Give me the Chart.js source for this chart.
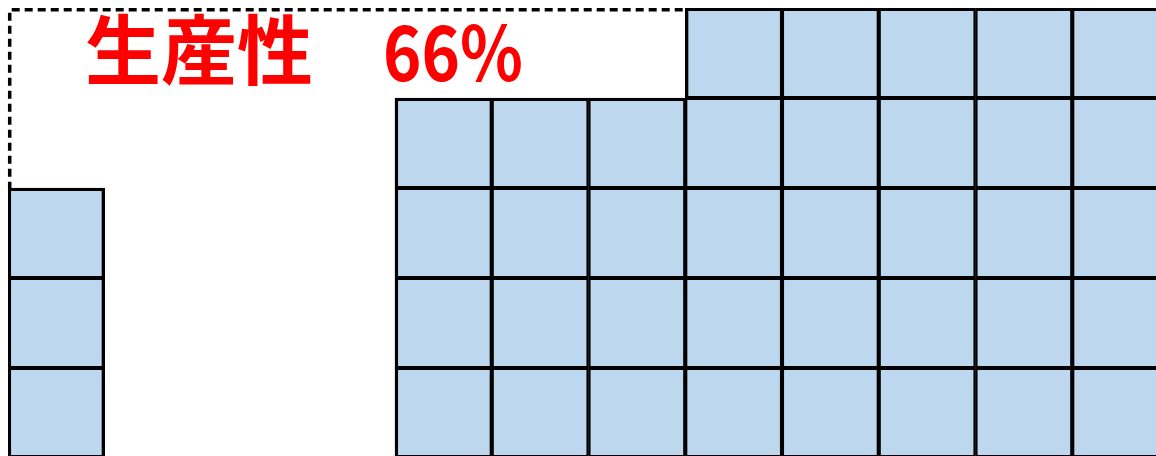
<!DOCTYPE html>
<html>
<head>
<meta charset="utf-8">
<script src="https://cdn.jsdelivr.net/npm/chart.js@4/dist/chart.umd.min.js"></script>
<style>
  html, body { margin: 0; padding: 0; background: #fff; overflow: hidden; width: 1156px; height: 456px; }
  #wrap { position: absolute; left: 0; top: 0; width: 1180px; height: 470px; }
</style>
</head>
<body>
<div id="wrap"><canvas id="c"></canvas></div>
<script>
// Data
const categories = ['1','2','3','4','5','6','7','8','9','10','11','12'];
const cellCounts = [3, 0, 0, 0, 4, 4, 4, 5, 5, 5, 5, 5];
const maxLevel = 5;
const dashX = [-0.5, -0.5, 6.5];
const dashY = [3, 5, 5];
const labelMain = '生産性';
const labelValue = '66%';

const cellFill = '#BDD7EE';
const INNER = 2.4, OUTER = 3.4;
const datasets = [];
for (let level = 0; level < maxLevel; level++) {
  datasets.push({
    label: 'row' + level,
    data: cellCounts.map(n => (n > level ? 1 : null)),
    backgroundColor: cellFill,
    borderColor: '#000000',
    borderWidth: (c) => {
      const i = c.dataIndex;
      const last = cellCounts.length - 1;
      return {
        top: cellCounts[i] === level + 1 ? OUTER : INNER,
        bottom: level === 0 ? OUTER : INNER,
        left: (i === 0 || cellCounts[i - 1] <= level) ? OUTER : INNER,
        right: (i === last || cellCounts[i + 1] <= level) ? OUTER : INNER
      };
    },
    borderSkipped: false,
    barPercentage: 1,
    categoryPercentage: 1
  });
}

const overlayPlugin = {
  id: 'overlayPlugin',
  afterDatasetsDraw(chart) {
    const ctx = chart.ctx;
    const xs = chart.scales.x;
    const ys = chart.scales.y;
    ctx.save();
    // dashed outline
    ctx.strokeStyle = '#000000';
    ctx.lineWidth = 3.5;
    ctx.lineCap = 'butt';
    ctx.setLineDash([8, 5]);
    ctx.beginPath();
    dashX.forEach((x, i) => {
      const px = xs.getPixelForValue(x) + 1.7;
      const py = ys.getPixelForValue(dashY[i]) + 1.7;
      if (i === 0) ctx.moveTo(px, py); else ctx.lineTo(px, py);
    });
    ctx.stroke();
    ctx.setLineDash([]);
    // label
    ctx.fillStyle = '#FF0000';
    ctx.textAlign = 'left';
    ctx.textBaseline = 'alphabetic';
    const top = ys.getPixelForValue(maxLevel);
    ctx.font = 'bold 76px "Noto Sans CJK JP"';
    ctx.fillText(labelMain, xs.getPixelForValue(0.327) - 3, top + 71);
    ctx.font = 'bold 76px "Noto Sans CJK JP"';
    const vx = xs.getPixelForValue(3.397) - 2;
    const w = ctx.measureText(labelValue).width;
    ctx.translate(vx, top + 73);
    ctx.scale(140 / w, 1);
    ctx.fillText(labelValue, 0, 0);
    ctx.restore();
  }
};

new Chart(document.getElementById('c'), {
  type: 'bar',
  data: { labels: categories, datasets: datasets },
  options: {
    responsive: true,
    maintainAspectRatio: false,
    animation: false,
    layout: { padding: { left: 8, top: 8, right: 11, bottom: 12 } },
    plugins: { legend: { display: false }, tooltip: { enabled: false } },
    scales: {
      x: { display: false, stacked: true, grid: { display: false } },
      y: { display: false, stacked: true, min: 0, max: maxLevel }
    }
  },
  plugins: [overlayPlugin]
});
</script>
</body>
</html>
